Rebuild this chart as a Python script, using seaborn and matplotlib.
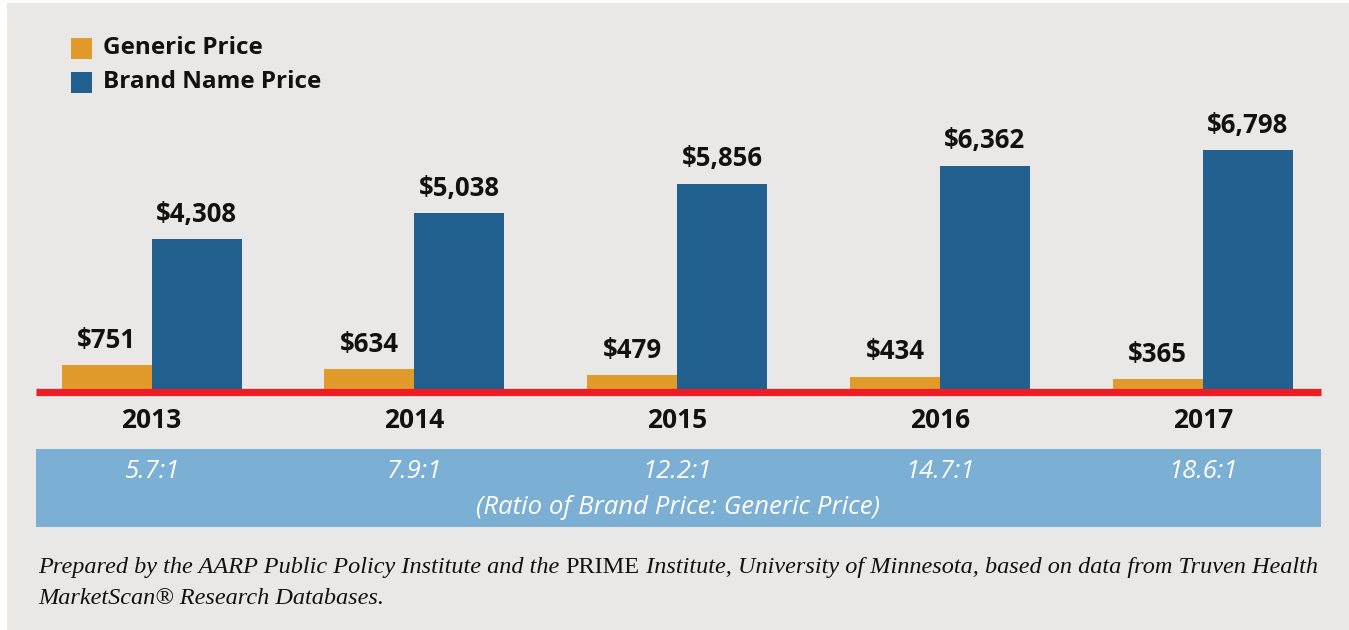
import matplotlib
matplotlib.use('Agg')
import matplotlib.pyplot as plt
import seaborn as sns
import pandas as pd
from matplotlib.patches import Rectangle

years = ['2013', '2014', '2015', '2016', '2017']
generic_price = [751, 634, 479, 434, 365]
brand_price = [4308, 5038, 5856, 6362, 6798]
ratios = ['5.7:1', '7.9:1', '12.2:1', '14.7:1', '18.6:1']
series = ['Generic Price', 'Brand Name Price']

BG = '#E9E8E6'
ORANGE = '#E09B2A'
BLUE = '#21608F'
BAND = '#7BAFD4'
RED = '#EE1C25'

df = pd.DataFrame({
    'Year': years * 2,
    'Price': generic_price + brand_price,
    'Series': [series[0]] * len(years) + [series[1]] * len(years),
})

W, H = 1349, 630
sns.set_style('white')
plt.rcParams['font.family'] = ['Open Sans', 'DejaVu Sans']

fig = plt.figure(figsize=(W / 100, H / 100), dpi=100, facecolor='white')
fig.patches.append(Rectangle((7 / W, 0), 1 - 7 / W, 1 - 3 / H, transform=fig.transFigure,
                             facecolor=BG, edgecolor='none', zorder=-10))
# ratio band (behind the axes so its texts stay on top)
fig.patches.append(Rectangle((36 / W, (H - 527) / H), (1321 - 36) / W, 78 / H,
                             transform=fig.transFigure, facecolor=BAND, edgecolor='none',
                             zorder=-5))

# axes: x 36..1321 px, baseline at y=392 px
ymax = 8000
px_per = (392 - 150) / 6798
top_px = 392 - ymax * px_per
ax = fig.add_axes([36 / W, (H - 392) / H, (1321 - 36) / W, (392 - top_px) / H])
ax.set_facecolor('none')

sns.barplot(data=df, x='Year', y='Price', hue='Series', palette=[ORANGE, BLUE],
            width=0.685, saturation=1, linewidth=0, ax=ax, legend=False)

ax.set_xlim(-0.44, 4.45)
ax.set_ylim(0, ymax)
for s in ax.spines.values():
    s.set_visible(False)
ax.set_yticks([])
ax.set_xlabel('')
ax.set_ylabel('')
ax.tick_params(axis='x', length=0, pad=11)
ax.set_xticks(range(len(years)))
ax.set_xticklabels(years, fontsize=19, fontweight='bold', color='#111111')
ax.axhline(0, color=RED, lw=5.2, clip_on=False, zorder=5, solid_capstyle='butt')

for cont in ax.containers:
    for bar in cont:
        v = bar.get_height()
        ax.annotate(f'${v:,.0f}', (bar.get_x() + bar.get_width() / 2, v),
                    xytext=(0, 8), textcoords='offset points', ha='center', va='bottom',
                    fontsize=18.5, fontweight='bold', color='#111111')

ratio_y = -(471 - 392) / (392 - top_px)
for i, r in enumerate(ratios):
    ax.text(i, ratio_y, r, transform=ax.get_xaxis_transform(), ha='center', va='center',
            fontsize=18.5, style='italic', color='white', clip_on=False)
fig.text((36 + 1321) / 2 / W, (H - 507) / H, '(Ratio of Brand Price: Generic Price)',
         ha='center', va='center', fontsize=18.5, style='italic', color='white')

# legend
for i, (name, col) in enumerate(zip(series, [ORANGE, BLUE])):
    yc = 48 + i * 34
    fig.patches.append(Rectangle((71 / W, (H - yc - 10.5) / H), 21 / W, 21 / H,
                                 transform=fig.transFigure, facecolor=col, edgecolor='none'))
    fig.text(103 / W, (H - yc) / H, name, ha='left', va='center',
             fontsize=17.5, fontweight='bold', color='#111111')

# source note
serif = ['Liberation Serif', 'DejaVu Serif']
fs = 17.45
t1 = fig.text(38 / W, (H - 573) / H, 'Prepared by the AARP Public Policy Institute and the ',
              family=serif, style='italic', fontsize=fs, color='#111111', va='baseline')
t2 = fig.text(0, 0, 'PRIME', family=serif, fontsize=fs, color='#111111', va='baseline')
t3 = fig.text(0, 0, ' Institute, University of Minnesota, based on data from Truven Health',
              family=serif, style='italic', fontsize=fs, color='#111111', va='baseline')
fig.canvas.draw()
r = fig.canvas.get_renderer()
bb = t1.get_window_extent(r)
t2.set_position((bb.x1 / W, (H - 573) / H))
fig.canvas.draw()
bb = t2.get_window_extent(r)
t3.set_position((bb.x1 / W, (H - 573) / H))
fig.text(38 / W, (H - 604) / H, 'MarketScan® Research Databases.', family=serif,
         style='italic', fontsize=fs, color='#111111', va='baseline')

fig.savefig('out.png', dpi=100, facecolor='white')
